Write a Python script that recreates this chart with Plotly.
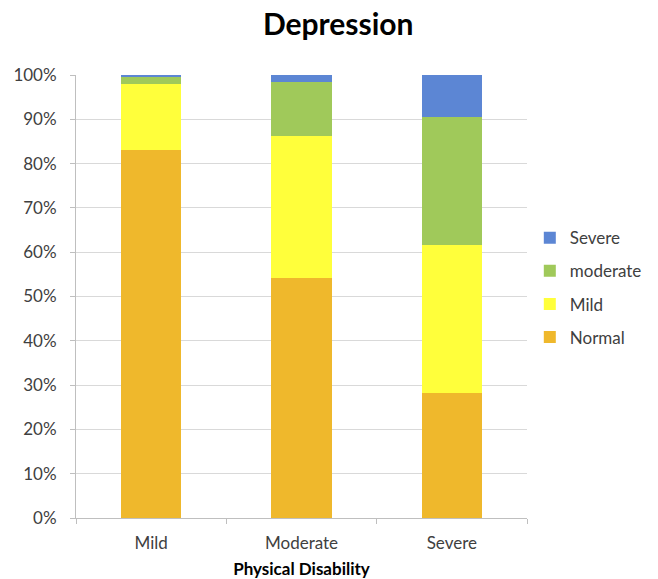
import plotly.graph_objects as go

# Physical disability level on the x axis, depression level stacked within each bar
disability = ["Mild", "Moderate", "Severe"]

normal = [83.0, 54.2, 28.2]
mild = [14.9, 32.0, 33.4]
moderate = [1.8, 12.3, 29.0]
severe = [0.3, 1.5, 9.4]

y_ticks = [0, 10, 20, 30, 40, 50, 60, 70, 80, 90, 100]
y_tick_text = [f"{v}%" for v in y_ticks]

series = [
    ("Normal", normal, "#EFB82C", 4),
    ("Mild", mild, "#FFFF3B", 3),
    ("moderate", moderate, "#A0C95A", 2),
    ("Severe", severe, "#5C86D4", 1),
]

fig = go.Figure()
for name, values, color, rank in series:
    fig.add_trace(go.Bar(
        x=disability,
        y=values,
        name=name,
        legendgroup=name,
        legendrank=rank,
        marker=dict(color=color, line=dict(width=0)),
        hovertemplate="%{x}: %{y:.1f}%<extra>" + name + "</extra>",
    ))

font_family = "Lato, 'Open Sans', sans-serif"

fig.update_layout(
    barmode="stack",
    bargap=0.6,
    width=658,
    height=579,
    margin=dict(l=76, r=130, t=75, b=61),
    paper_bgcolor="white",
    plot_bgcolor="white",
    font=dict(family=font_family, size=17, color="#404040"),
    title=dict(
        text="<b>Depression</b>",
        x=0.514,
        xanchor="center",
        y=0.957,
        yanchor="middle",
        font=dict(family=font_family, size=30, color="#000000"),
    ),
    legend=dict(
        x=1.004,
        xanchor="left",
        y=0.52,
        yanchor="middle",
        traceorder="grouped",
        tracegroupgap=8,
        font=dict(family=font_family, size=17, color="#404040"),
        bgcolor="rgba(0,0,0,0)",
    ),
    xaxis=dict(
        title=dict(text="<b>Physical Disability</b>",
                   font=dict(family=font_family, size=17, color="#000000"),
                   standoff=11),
        automargin=False,
        showline=True,
        linecolor="#BFBFBF",
        linewidth=1,
        ticks="outside",
        tickson="boundaries",
        ticklen=5,
        tickcolor="#BFBFBF",
        ticklabelstandoff=10,
        showgrid=False,
        tickfont=dict(size=17, color="#404040"),
    ),
    yaxis=dict(
        range=[0, 100],
        tickvals=y_ticks,
        ticktext=y_tick_text,
        automargin=False,
        showline=True,
        linecolor="#BFBFBF",
        linewidth=1,
        ticks="outside",
        ticklen=5,
        tickcolor="#BFBFBF",
        ticklabelstandoff=10,
        showgrid=True,
        gridcolor="#D9D9D9",
        gridwidth=1,
        zeroline=False,
        tickfont=dict(size=17, color="#404040"),
    ),
)

fig.write_html("out.html")
